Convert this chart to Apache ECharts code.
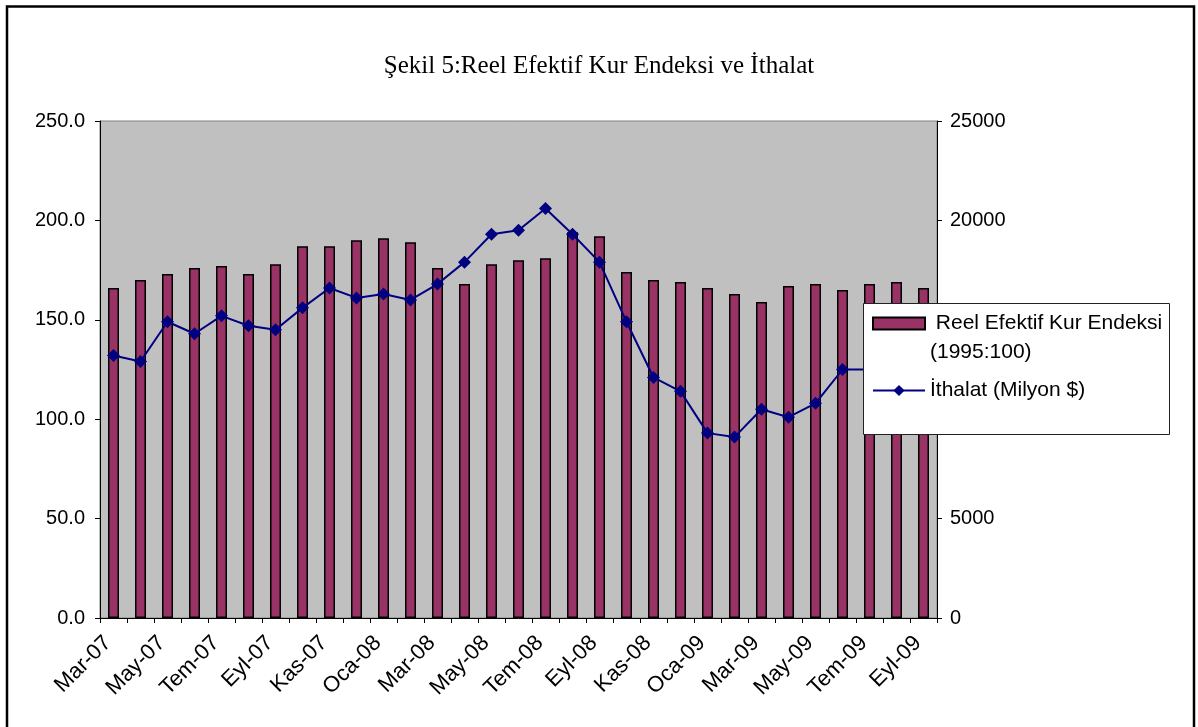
<!DOCTYPE html>
<html>
<head>
<meta charset="utf-8">
<script src="https://cdn.jsdelivr.net/npm/echarts@6/dist/echarts.min.js"></script>
<style>
  html, body { margin: 0; padding: 0; background: #fff; }
  #main { width: 1198px; height: 727px; }
</style>
</head>
<body>
<div id="main"></div>
<script>
// aylar (Mar-07 .. Eyl-09)
const months = [
  'Mar-07', 'Nis-07', 'May-07', 'Haz-07', 'Tem-07', 'Ağu-07', 'Eyl-07', 'Eki-07', 'Kas-07', 'Ara-07',
  'Oca-08', 'Şub-08', 'Mar-08', 'Nis-08', 'May-08', 'Haz-08', 'Tem-08', 'Ağu-08', 'Eyl-08', 'Eki-08', 'Kas-08', 'Ara-08',
  'Oca-09', 'Şub-09', 'Mar-09', 'Nis-09', 'May-09', 'Haz-09', 'Tem-09', 'Ağu-09', 'Eyl-09'
]

// Reel Efektif Kur Endeksi (1995:100)
const reelKur = [166, 170, 173, 176, 177, 173, 178, 187, 187, 190, 191, 189, 176, 168, 178, 180,
  181, 194, 192, 174, 170, 169, 166, 163, 159, 167, 168, 165, 168, 169, 166]

// İthalat (Milyon $)
const ithalat = [13200, 12900, 14900, 14300, 15200, 14700, 14500, 15600, 16600, 16100, 16300,
  16000, 16800, 17900, 19300, 19500, 20600, 19300, 17900, 14900, 12100, 11400, 9300, 9100,
  10500, 10100, 10800, 12500, 12500, 12800, 13200]

const barName = 'Reel Efektif Kur Endeksi (1995:100)'
const lineName = 'İthalat (Milyon $)'

const chart = echarts.init(document.getElementById('main'))

const axisFont = { fontFamily: 'Liberation Sans', fontSize: 20, color: '#000' }

const option = {
  animation: false,
  title: {
    text: 'Şekil 5:Reel Efektif Kur Endeksi ve İthalat',
    left: 'center',
    top: 49,
    textStyle: { fontFamily: 'Liberation Serif', fontSize: 25, fontWeight: 'normal', color: '#000' }
  },
  graphic: [
    {
      type: 'rect',
      z: 0,
      shape: { x: 7, y: 6.5, width: 1187, height: 800 },
      style: { fill: 'none', stroke: '#000', lineWidth: 2.5 }
    },
    {
      // lejant kutusu
      type: 'rect',
      z: 5,
      shape: { x: 863.5, y: 303.5, width: 306, height: 131 },
      style: { fill: '#fff', stroke: '#222', lineWidth: 1 }
    }
  ],
  legend: [
    {
      data: [{ name: barName, icon: 'rect' }],
      left: 872,
      top: 280,
      z: 10,
      padding: 0,
      itemWidth: 52,
      itemHeight: 12,
      // boş ilk satır: ikon ilk satırla hizalansın
      formatter: () => ' \n Reel Efektif Kur Endeksi\n(1995:100)',
      textStyle: { fontFamily: 'Liberation Sans', fontSize: 21, color: '#000', lineHeight: 29 }
    },
    {
      data: [lineName],
      left: 872,
      top: 380,
      z: 10,
      padding: 0,
      itemWidth: 52,
      itemHeight: 14,
      textStyle: { fontFamily: 'Liberation Sans', fontSize: 21, color: '#000' }
    }
  ],
  grid: {
    left: 100,
    right: 261,
    top: 121,
    bottom: 109,
    show: true,
    backgroundColor: '#c0c0c0',
    borderColor: '#808080',
    borderWidth: 1
  },
  xAxis: {
    type: 'category',
    data: months,
    axisLine: { lineStyle: { color: '#000', width: 1 } },
    axisTick: { show: true, interval: 0, length: 5, lineStyle: { color: '#000' } },
    axisLabel: { ...axisFont, fontSize: 22, interval: 1, rotate: 45, margin: 16, padding: [0, 8, 0, 0] }
  },
  yAxis: [
    {
      type: 'value',
      min: 0,
      max: 250,
      interval: 50,
      axisLine: { show: true, lineStyle: { color: '#000' } },
      axisTick: { show: true, length: 5, lineStyle: { color: '#000' } },
      splitLine: { show: false },
      axisLabel: { ...axisFont, margin: 15, formatter: (v) => v.toFixed(1) }
    },
    {
      type: 'value',
      min: 0,
      max: 25000,
      interval: 5000,
      position: 'right',
      axisLine: { show: true, lineStyle: { color: '#000' } },
      axisTick: { show: true, length: 5, lineStyle: { color: '#000' } },
      splitLine: { show: false },
      axisLabel: { ...axisFont, margin: 13, formatter: (v) => String(v) }
    }
  ],
  series: [
    {
      name: barName,
      type: 'bar',
      data: reelKur,
      barWidth: 11,
      z: 2,
      itemStyle: { color: '#993366', borderColor: '#000', borderWidth: 1.5 }
    },
    {
      name: lineName,
      type: 'line',
      yAxisIndex: 1,
      data: ithalat,
      z: 3,
      symbol: 'diamond',
      symbolSize: 13,
      lineStyle: { color: '#000080', width: 2 },
      itemStyle: { color: '#000080' }
    }
  ]
}

chart.setOption(option)
</script>
</body>
</html>
